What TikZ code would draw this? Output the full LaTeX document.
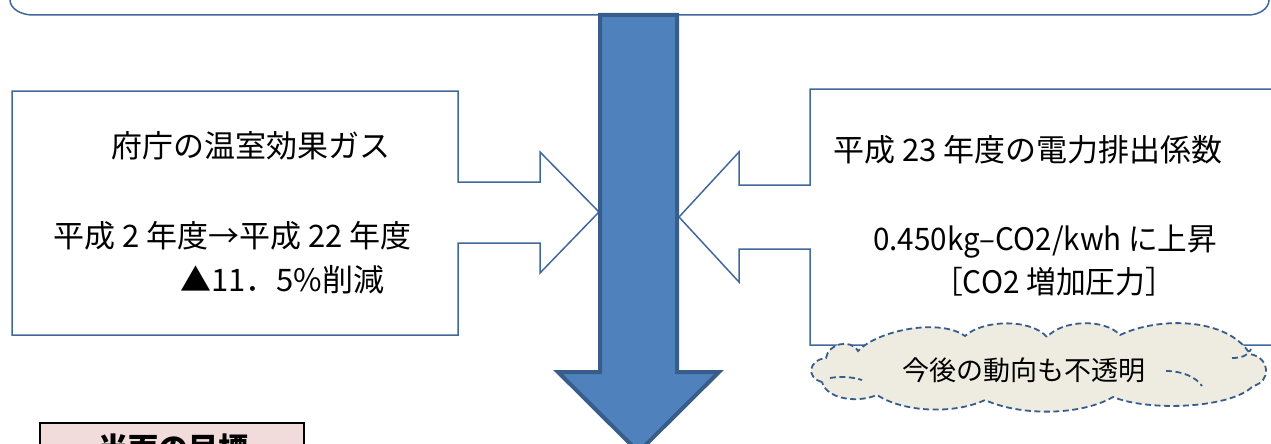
\documentclass[tikz,border=0pt]{standalone}
\usepackage{fontspec}
\newfontfamily\jp{Noto Sans CJK JP}
\definecolor{lineblue}{RGB}{65,104,155}
\definecolor{arrowfill}{RGB}{79,129,189}
\definecolor{arrowline}{RGB}{56,93,138}
\definecolor{cloudfill}{RGB}{238,236,225}
\definecolor{pinkfill}{RGB}{242,220,219}
\begin{document}
\begin{tikzpicture}[x=1pt,y=-1pt,
  outline/.style={draw=lineblue, line width=1.5pt, fill=white, line join=miter},
  txt/.style={font=\jp\fontsize{31}{36}\selectfont, inner sep=0pt, anchor=west},
  cloudtxt/.style={font=\jp\fontsize{27}{32}\selectfont, inner sep=0pt, anchor=west},
  cloudline/.style={draw=arrowline, line width=1.8pt, dash pattern=on 6pt off 3.5pt},
]
\useasboundingbox (0,0) rectangle (1271,444);
\clip (0,0) rectangle (1271,444);
% top box (partly visible)
\draw[lineblue, line width=1.5pt] (10,-40) -- (10,0)
  arc[start angle=180, end angle=90, x radius=23, y radius=15] -- (1248,15)
  arc[start angle=90, end angle=0, x radius=21, y radius=15] -- (1269,-40);
% left notched-arrow box
\coordinate (ltip) at (599,212);
\draw[outline] (12,91) -- (458,91) -- (458,182) -- (540,182) -- (540,152) -- (ltip)
  -- (540,273) -- (540,243) -- (458,243) -- (458,335) -- (12,335) -- cycle;
% right notched-arrow box
\coordinate (rtip) at (679,217);
\draw[outline] (1290,89) -- (810,89) -- (810,185) -- (739,185) -- (739,152) -- (rtip)
  -- (739,282) -- (739,249) -- (810,249) -- (810,345) -- (1290,345);
% big down arrow
\draw[fill=arrowfill, draw=arrowline, line width=4pt, line join=miter]
  (600,15) -- (677,15) -- (677,372) -- (719,372) -- (638.5,452) -- (558,372) -- (600,372) -- cycle;
% texts
\node[txt] (l1) at (111,146) {府庁の温室効果ガス};
\node[txt] (l2) at (53,236) {平成 2 年度→平成 22 年度};
\node[txt] (l3) at (180,280) {▲11．5\%削減};
\node[txt] (r1) at (833,150) {平成 23 年度の電力排出係数};
\node[txt] (r2) at (873,242) {\scalebox{0.955}[1]{0.450kg–CO2/kwh に上昇}};
\node[txt] (r3) at (933,282) {\scalebox{0.96}[1]{［CO2 増加圧力］}};
% cloud (drawn shape)
\coordinate (p1) at (822,382);
\coordinate (p2) at (826,358);
\coordinate (p3) at (858,351);
\coordinate (p4) at (965,336);
\coordinate (p5) at (1047,337);
\coordinate (p6) at (1120,335);
\coordinate (p7) at (1250,354);
\coordinate (p8) at (1253,386);
\coordinate (p9) at (1113,397);
\coordinate (p10) at (985,400);
\coordinate (p11) at (877,395);
\draw[cloudline, fill=cloudfill]
  (p1) .. controls (806,378) and (808,360) .. (p2)
  .. controls (828,344) and (850,338) .. (p3)
  .. controls (878,330) and (940,318) .. (p4)
  .. controls (982,320) and (1030,318) .. (p5)
  .. controls (1062,320) and (1104,318) .. (p6)
  .. controls (1160,316) and (1228,318) .. (p7)
  .. controls (1271,358) and (1271,382) .. (p8)
  .. controls (1232,408) and (1150,412) .. (p9)
  .. controls (1080,416) and (1020,416) .. (p10)
  .. controls (955,414) and (905,413) .. (p11)
  .. controls (855,404) and (826,398) .. (p1) -- cycle;
\coordinate (ia1) at (830,378);
\coordinate (ia2) at (862,380);
\coordinate (ib1) at (1166,371);
\coordinate (ib2) at (1202,386);
\coordinate (ic1) at (1232,358);
\coordinate (ic2) at (1251,349);
\draw[cloudline] (ia1) .. controls (842,376) and (852,377) .. (ia2);
\draw[cloudline] (ib1) .. controls (1182,371) and (1196,377) .. (ib2);
\draw[cloudline] (ic1) .. controls (1242,358) and (1249,355) .. (ic2);
\node[cloudtxt] (c1) at (902,370) {今後の動向も不透明};
% bottom-left target box
\draw[draw=black, line width=2pt, fill=pinkfill] (40,423) rectangle (304,490);
\node[font=\jp\bfseries\fontsize{30}{36}\selectfont, inner sep=0pt, anchor=base] (goal) at (173,459) {当面の目標};
\end{tikzpicture}
\end{document}
